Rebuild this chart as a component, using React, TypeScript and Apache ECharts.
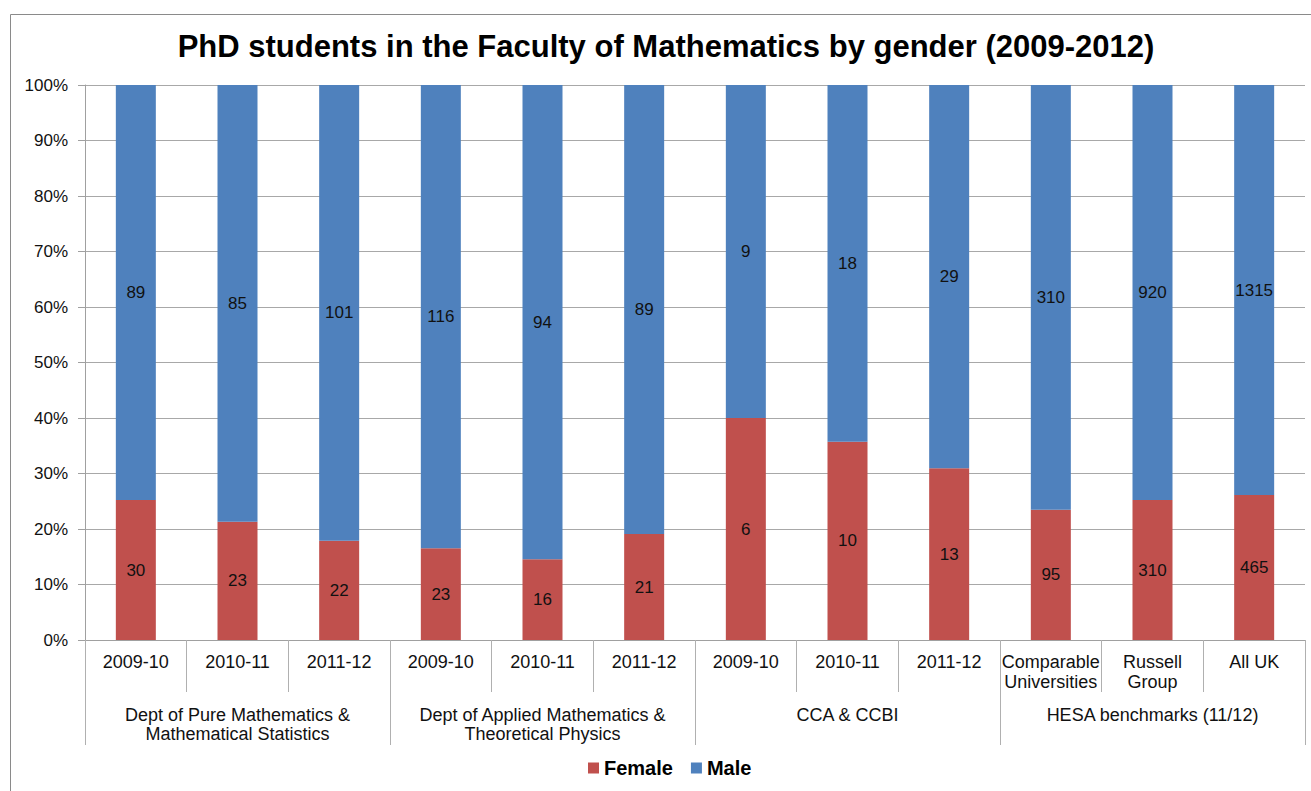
import React, { useEffect, useRef } from "react";
import * as echarts from "echarts";

const categories = [
  "2009-10", "2010-11", "2011-12",
  "2009-10", "2010-11", "2011-12",
  "2009-10", "2010-11", "2011-12",
  "Comparable\nUniversities", "Russell\nGroup", "All UK",
];
const groups = [
  "Dept of Pure Mathematics &\nMathematical Statistics",
  "Dept of Applied Mathematics &\nTheoretical Physics",
  "CCA & CCBI",
  "HESA benchmarks (11/12)",
];
const femaleCounts = [30, 23, 22, 23, 16, 21, 6, 10, 13, 95, 310, 465];
const maleCounts = [89, 85, 101, 116, 94, 89, 9, 18, 29, 310, 920, 1315];
const yTicks = [0, 10, 20, 30, 40, 50, 60, 70, 80, 90, 100];

const FONT = "Liberation Sans, Arial, sans-serif";

export default function App() {
  const ref = useRef<HTMLDivElement>(null);
  useEffect(() => {
    if (!ref.current) return;
    const chart = echarts.init(ref.current, undefined, { renderer: "svg" });
    const femalePct = femaleCounts.map((f, i) => (100 * f) / (f + maleCounts[i]));
    const malePct = maleCounts.map((m, i) => (100 * m) / (m + femaleCounts[i]));
    const labelStyle = {
      show: true,
      position: "inside" as const,
      color: "#111",
      fontSize: 17,
      fontFamily: FONT,
    };
    chart.setOption({
      animation: false,
      textStyle: { fontFamily: FONT },
      title: {
        text: "PhD students in the Faculty of Mathematics by gender (2009-2012)",
        left: 661,
        top: 26,
        textAlign: "center",
        textStyle: { fontSize: 31, fontWeight: "bold", color: "#000", fontFamily: FONT },
      },
      graphic: [
        {
          type: "rect",
          shape: { x: 10.5, y: 14.5, width: 1400, height: 900 },
          style: { fill: "none", stroke: "#8a8a8a", lineWidth: 1 },
          silent: true,
        },
      ],
      legend: {
        bottom: 8,
        left: 583,
        itemWidth: 11,
        itemHeight: 11,
        itemGap: 18,
        icon: "rect",
        textStyle: { fontSize: 20, fontWeight: "bold", color: "#000", fontFamily: FONT },
        data: ["Female", "Male"],
      },
      grid: { left: 85, right: 6, top: 85, bottom: 151, containLabel: false },
      xAxis: [
        {
          type: "category",
          data: categories,
          position: "bottom",
          axisLine: { show: true, lineStyle: { color: "#a0a0a0" } },
          axisTick: { show: true, length: 52, alignWithLabel: false, lineStyle: { color: "#b0b0b0" } },
          axisLabel: { interval: 0, color: "#111", fontSize: 18, margin: 12, lineHeight: 20, fontFamily: FONT },
        },
        {
          type: "category",
          data: groups,
          position: "bottom",
          gridIndex: 0,
          axisLine: { show: false },
          axisTick: { show: true, length: 105, alignWithLabel: false, lineStyle: { color: "#b0b0b0" } },
          axisLabel: { interval: 0, color: "#111", fontSize: 18, margin: 65, lineHeight: 19, fontFamily: FONT },
        },
      ],
      yAxis: {
        type: "value",
        min: 0,
        max: 100,
        interval: 10,
        axisLine: { show: true, lineStyle: { color: "#a0a0a0" } },
        axisTick: { show: true, length: 7, lineStyle: { color: "#a0a0a0" } },
        splitLine: { show: true, lineStyle: { color: "#a8a8a8" } },
        axisLabel: {
          color: "#111",
          fontSize: 17,
          margin: 17,
          fontFamily: FONT,
          formatter: (v: number) => (yTicks.includes(v) ? v + "%" : ""),
        },
      },
      series: [
        {
          name: "Female",
          type: "bar",
          stack: "total",
          barWidth: 40,
          xAxisIndex: 0,
          data: femalePct,
          itemStyle: { color: "#C0504D" },
          label: { ...labelStyle, formatter: (p: any) => String(femaleCounts[p.dataIndex]) },
        },
        {
          name: "Male",
          type: "bar",
          stack: "total",
          barWidth: 40,
          xAxisIndex: 0,
          data: malePct,
          itemStyle: { color: "#4F81BD" },
          label: { ...labelStyle, formatter: (p: any) => String(maleCounts[p.dataIndex]) },
        },
      ],
    });
    return () => chart.dispose();
  }, []);
  return <div ref={ref} style={{ width: 1311, height: 791, position: "absolute", left: 0, top: 0, background: "#fff" }} />;
}
